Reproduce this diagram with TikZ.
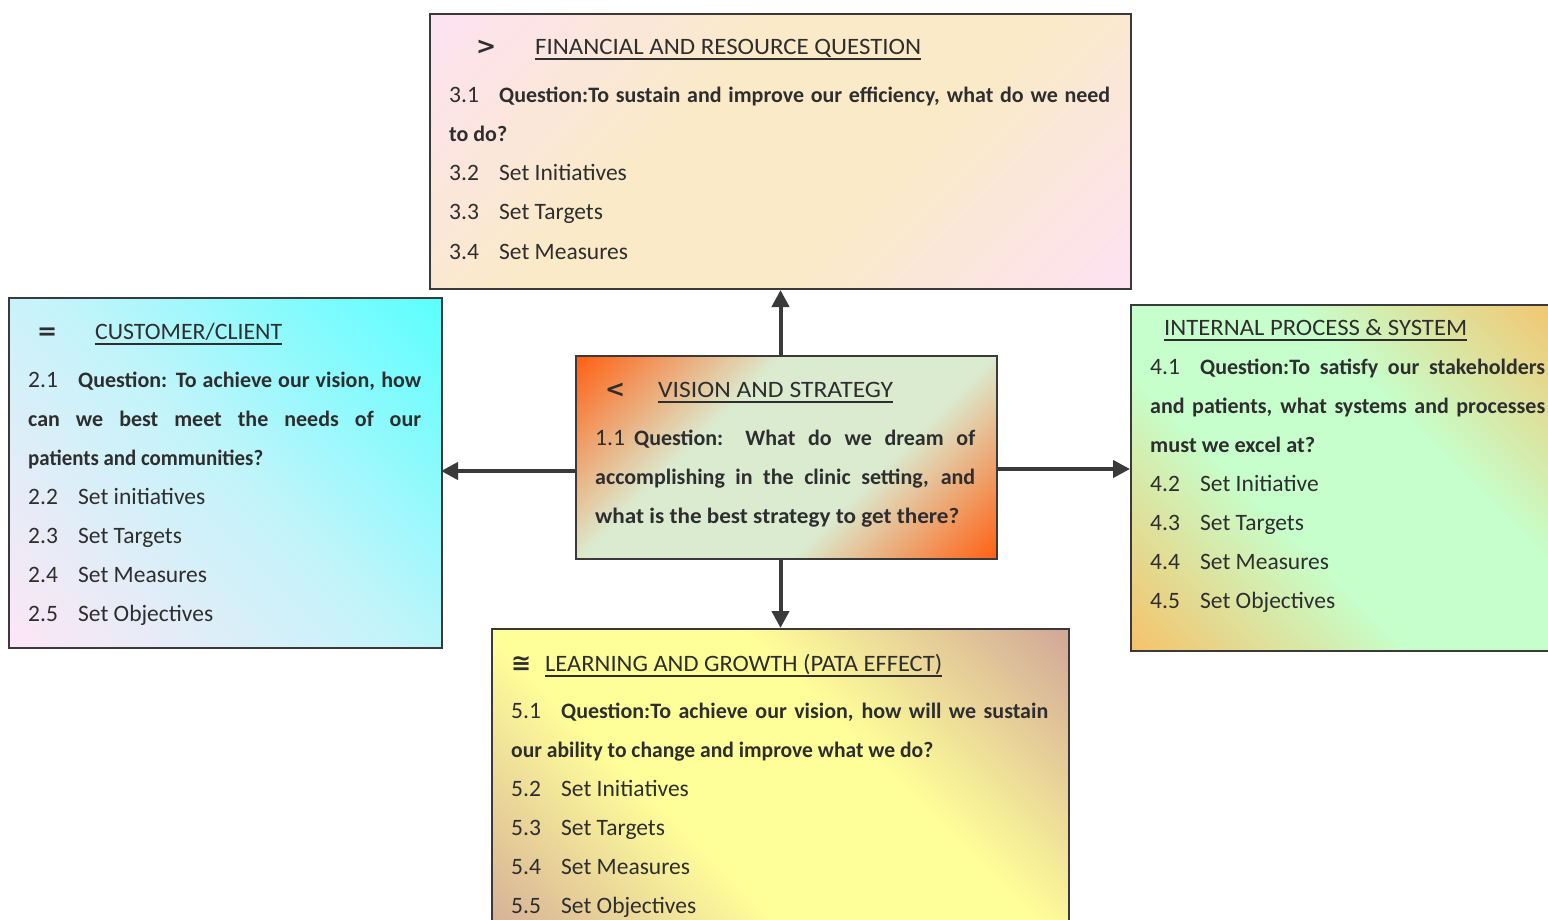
\documentclass[tikz,border=0pt]{standalone}
\usepackage{fontspec}
\setmainfont{Carlito}
\newfontfamily\symfont{DejaVu Sans}
\usepackage{graphicx}
\usetikzlibrary{arrows.meta}

\definecolor{edge}{HTML}{3A3A3A}
\definecolor{txt}{HTML}{2E2E2E}
\definecolor{finA}{HTML}{FDE2F2}
\definecolor{finB}{HTML}{FAEAC8}
\definecolor{visA}{HTML}{FF6216}
\definecolor{visB}{HTML}{DBEBD0}
\definecolor{cusA}{HTML}{FDE6F5}
\definecolor{cusM}{HTML}{C4F4FA}
\definecolor{cusB}{HTML}{5CFFFF}
\definecolor{intA}{HTML}{F5C36C}
\definecolor{intB}{HTML}{C6FFCC}
\definecolor{lrnA}{HTML}{D2A898}
\definecolor{lrnB}{HTML}{FFFF99}

\pgfdeclarehorizontalshading{finsh}{100bp}{color(0bp)=(finA); color(15bp)=(finA); color(40bp)=(finB); color(60bp)=(finB); color(85bp)=(finA); color(100bp)=(finA)}
\pgfdeclarehorizontalshading{vissh}{100bp}{color(0bp)=(visA); color(15bp)=(visA); color(38bp)=(visB); color(62bp)=(visB); color(85bp)=(visA); color(100bp)=(visA)}
\pgfdeclarehorizontalshading{cussh}{100bp}{color(0bp)=(cusA); color(15bp)=(cusA); color(50bp)=(cusM); color(85bp)=(cusB); color(100bp)=(cusB)}
\pgfdeclarehorizontalshading{intsh}{100bp}{color(0bp)=(intA); color(15bp)=(intA); color(40bp)=(intB); color(60bp)=(intB); color(85bp)=(intA); color(100bp)=(intA)}
\pgfdeclarehorizontalshading{lrnsh}{100bp}{color(0bp)=(lrnA); color(15bp)=(lrnA); color(40bp)=(lrnB); color(60bp)=(lrnB); color(85bp)=(lrnA); color(100bp)=(lrnA)}

\newsavebox\jb
\newcommand\jline[2]{\sbox\jb{#2}\ifdim\wd\jb>#1\relax\resizebox{#1}{\height}{\usebox\jb}\else\makebox[#1][s]{#2}\fi}
\newcommand\fitto[2]{\resizebox{#1}{\height}{#2}}

\tikzset{
  box/.style={draw=edge, line width=2pt, inner sep=0pt, anchor=north west},
  tx/.style={anchor=base west, inner sep=0pt, text=txt, font=\fontsize{23.5}{27}\selectfont},
  bx/.style={anchor=base west, inner sep=0pt, text=txt, font=\fontsize{22}{27}\selectfont\bfseries},
  sym/.style={anchor=base west, inner sep=0pt, text=txt, font=\symfont\bfseries\fontsize{24}{28}\selectfont},
  uline/.style={draw=txt, line width=2pt},
  arr/.style={draw=edge, line width=4pt, -{Triangle[length=17pt,width=17pt]}},
}

\begin{document}
\begin{tikzpicture}[x=1pt,y=-1pt]
\useasboundingbox (0,0) rectangle (1548,920);
\fill[white] (0,0) rectangle (1548,920);
\clip (0,0) rectangle (1548,920);

% boxes
\node[box, shading=finsh, shading angle=-45, minimum width=701pt, minimum height=275pt] (fin) at (429,13) {};
\node[box, shading=cussh, shading angle=45, minimum width=433pt, minimum height=350pt] (cus) at (8,297) {};
\node[box, shading=vissh, shading angle=-45, minimum width=421pt, minimum height=203pt] (vis) at (575,355) {};
\node[box, shading=intsh, shading angle=45, minimum width=440pt, minimum height=346pt] (int) at (1130,304) {};
\node[box, shading=lrnsh, shading angle=45, minimum width=577pt, minimum height=332pt] (lrn) at (491,628) {};

% arrows
\coordinate (rtip) at (1130,469);
\coordinate (ltip) at (441,471);
\draw[arr] (fin.south |- vis.north) -- (fin.south);
\draw[arr] (lrn.north |- vis.south) -- (lrn.north);
\draw[arr] (vis.west |- ltip) -- (ltip);
\draw[arr] (vis.east |- rtip) -- (rtip);

% Financial
\node[sym] (finS) at (476,55) {>};
\node[tx] (finT) at (535,55) {\fitto{386pt}{FINANCIAL AND RESOURCE QUESTION}};
\draw[uline] ([yshift=-4.5pt]finT.base west) -- ([yshift=-4.5pt]finT.base east);
\node[tx] (finN1) at (449,103) {3.1};
\node[bx] (finQ1) at (499,103) {\jline{611pt}{Question:To sustain and improve our efficiency, what do we need}};
\node[bx] (finQ2) at (449,142) {\fitto{58pt}{to do?}};
\foreach \n/\t [count=\i] in {3.2/Set Initiatives, 3.3/Set Targets, 3.4/Set Measures}{
  \node[tx] (finN\i x) at (449,142+39*\i) {\n};
  \node[tx] (finI\i) at (499,142+39*\i) {\t};
}

% Customer
\node[sym] (cusS) at (37,339) {=};
\node[tx] (cusT) at (95,339) {\fitto{187pt}{CUSTOMER/CLIENT}};
\draw[uline] ([yshift=-4.5pt]cusT.base west) -- ([yshift=-4.5pt]cusT.base east);
\node[tx] (cusN1) at (28,387) {2.1};
\node[bx] (cusQ1) at (78,387) {\jline{343pt}{Question: To achieve our vision, how}};
\node[bx] (cusQ2) at (28,426) {\jline{393pt}{can we best meet the needs of our}};
\node[bx] (cusQ3) at (28,465) {\fitto{235pt}{patients and communities?}};
\foreach \n/\t [count=\i] in {2.2/Set initiatives, 2.3/Set Targets, 2.4/Set Measures, 2.5/Set Objectives}{
  \node[tx] (cusN\i x) at (28,465+39*\i) {\n};
  \node[tx] (cusI\i) at (78,465+39*\i) {\t};
}

% Vision
\node[sym] (visS) at (605,397) {<};
\node[tx] (visT) at (658,397) {\fitto{235pt}{VISION AND STRATEGY}};
\draw[uline] ([yshift=-4.5pt]visT.base west) -- ([yshift=-4.5pt]visT.base east);
\node[tx] (visN1) at (595,445) {1.1};
\node[bx] (visQ1) at (634,445) {\jline{341pt}{Question: What do we dream of}};
\node[bx] (visQ2) at (595,484) {\jline{380pt}{accomplishing in the clinic setting, and}};
\node[bx] (visQ3) at (595,523) {\fitto{364pt}{what is the best strategy to get there?}};

% Internal
\node[tx] (intT) at (1164,335) {\fitto{303pt}{INTERNAL PROCESS \& SYSTEM}};
\draw[uline] ([yshift=-4.5pt]intT.base west) -- ([yshift=-4.5pt]intT.base east);
\node[tx] (intN1) at (1150,374) {4.1};
\node[bx] (intQ1) at (1200,374) {\jline{345pt}{Question:To satisfy our stakeholders}};
\node[bx] (intQ2) at (1150,413) {\jline{395pt}{and patients, what systems and processes}};
\node[bx] (intQ3) at (1150,452) {\fitto{165pt}{must we excel at?}};
\foreach \n/\t [count=\i] in {4.2/Set Initiative, 4.3/Set Targets, 4.4/Set Measures, 4.5/Set Objectives}{
  \node[tx] (intN\i x) at (1150,452+39*\i) {\n};
  \node[tx] (intI\i) at (1200,452+39*\i) {\t};
}

% Learning
\node[sym] (lrnS) at (511,671) {≅};
\node[tx] (lrnT) at (545,671) {\fitto{397pt}{LEARNING AND GROWTH (PATA EFFECT)}};
\draw[uline] ([yshift=-4.5pt]lrnT.base west) -- ([yshift=-4.5pt]lrnT.base east);
\node[tx] (lrnN1) at (511,718) {5.1};
\node[bx] (lrnQ1) at (561,718) {\jline{487pt}{Question:To achieve our vision, how will we sustain}};
\node[bx] (lrnQ2) at (511,757) {\fitto{422pt}{our ability to change and improve what we do?}};
\foreach \n/\t [count=\i] in {5.2/Set Initiatives, 5.3/Set Targets, 5.4/Set Measures, 5.5/Set Objectives}{
  \node[tx] (lrnN\i x) at (511,757+39*\i) {\n};
  \node[tx] (lrnI\i) at (561,757+39*\i) {\t};
}
\end{tikzpicture}
\end{document}
